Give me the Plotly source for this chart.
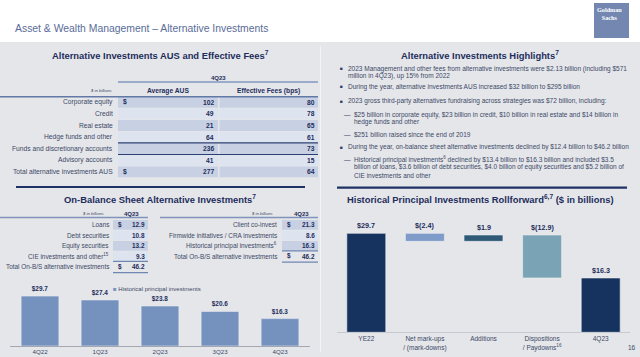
import plotly.graph_objects as go

W, H = 640, 357
FONT = "Liberation Sans, Arial, sans-serif"
NAVY = "#1d2d5c"
TXT = "#3b4868"
DARK_CELL = "#c7d1e3"
LIGHT_CELL = "#dde4ef"
BG = "#e5e6e9"

# ---------------- data ----------------
aus_categories = ["Corporate equity", "Credit", "Real estate", "Hedge funds and other",
                  "Funds and discretionary accounts", "Advisory accounts",
                  "Total alternative investments AUS"]
aus_average = [102, 49, 21, 64, 236, 41, 277]
aus_fees_bps = [80, 78, 65, 61, 73, 15, 64]

bs_asset_labels = ["Loans", "Debt securities", "Equity securities",
                   "CIE investments and other<sup>15</sup>",
                   "Total On-B/S alternative investments"]
bs_asset_values = [12.9, 10.8, 13.2, 9.3, 46.2]

bs_type_labels = ["Client co-invest", "Firmwide initiatives / CRA investments",
                  "Historical principal investments<sup>6</sup>",
                  "Total On-B/S alternative investments"]
bs_type_values = [21.3, 8.6, 16.3, 46.2]

hpi_quarters = ["4Q22", "1Q23", "2Q23", "3Q23", "4Q23"]
hpi_values = [29.7, 27.4, 23.8, 20.6, 16.3]

roll_categories = ["YE22", "Net mark-ups", "Additions", "Dispositions", "4Q23"]
roll_ticktext = ["YE22", "Net mark-ups<br>/ (mark-downs)", "Additions",
                 "Dispositions<br>/ Paydowns<sup>16</sup>", "4Q23"]
roll_values = [29.7, -2.4, 1.9, -12.9, 16.3]
roll_is_total = [True, False, False, False, True]
roll_labels = ["$29.7", "$(2.4)", "$1.9", "$(12.9)", "$16.3"]
roll_colors = ["#15335e", "#7f9bc9", "#2e5a78", "#7aa4b6", "#15335e"]

highlights = [
    ("b", "2023 Management and other fees from alternative investments were $2.13 billion (including $571", 69),
    ("c", "million in 4Q23), up 15% from 2022", 75.8),
    ("b", "During the year, alternative investments AUS increased $32 billion to $295 billion", 86.7),
    ("b", "2023 gross third-party alternatives fundraising across strategies was $72 billion, including:", 101),
    ("d", "$25 billion in corporate equity, $23 billion in credit, $10 billion in real estate and $14 billion in", 115),
    ("dc", "hedge funds and other", 121.8),
    ("d", "$251 billion raised since the end of 2019", 134),
    ("b", "During the year, on-balance sheet alternative investments declined by $12.4 billion to $46.2 billion", 147.3),
    ("d", "Historical principal investments<sup>6</sup> declined by $13.4 billion to $16.3 billion and included $3.5", 159.3),
    ("dc", "billion of loans, $3.6 billion of debt securities, $4.0 billion of equity securities and $5.2 billion of", 167.3),
    ("dc", "CIE investments and other", 175.3),
]

# ---------------- helpers ----------------
ann = []
shapes = []


def X(px):
    return px / W


def Y(py):
    return 1 - py / H


def text(x, y, s, size=6.7, color=TXT, anchor="center", bold=False, italic=False, family=FONT, yanchor="middle"):
    if bold:
        s = "<b>" + s + "</b>"
    if italic:
        s = "<i>" + s + "</i>"
    ann.append(dict(x=X(x), y=Y(y), xref="paper", yref="paper", text=s, showarrow=False,
                    xanchor=anchor, yanchor=yanchor, borderpad=0,
                    font=dict(size=size, color=color, family=family)))


def rect(x0, y0, x1, y1, fill, layer="below"):
    shapes.append(dict(type="rect", xref="paper", yref="paper", x0=X(x0), x1=X(x1), y0=Y(y1), y1=Y(y0),
                       fillcolor=fill, line=dict(width=0), layer=layer))


def hline(x0, x1, y, color, width=1.0):
    shapes.append(dict(type="line", xref="paper", yref="paper", x0=X(x0), x1=X(x1), y0=Y(y), y1=Y(y),
                       line=dict(color=color, width=width), layer="below"))


TITLE = 9.4
BODY = 6.5
TBL = 6.7
BST = 6.4

# ---------------- background / header ----------------
rect(0, 42, W, H, BG)
shapes.append(dict(type="line", xref="paper", yref="paper", x0=X(320.5), x1=X(320.5), y0=Y(352), y1=Y(46),
                   line=dict(color="#f2f3f5", width=1), layer="below"))
text(14, 28.5, "Asset & Wealth Management – Alternative Investments", size=10.4, color="#5a6c98", anchor="left")
rect(594, 3, 629, 38, "#7387b1")
text(596, 5, "<b>Goldman<br>Sachs</b>", size=6.2, color="white", anchor="left",
     family="Liberation Serif, serif", yanchor="top")

# ---------------- AUS table ----------------
text(160, 55, "Alternative Investments AUS and Effective Fees<sup>7</sup>", size=TITLE, color=NAVY, bold=True)
text(218, 77.5, "4Q23", size=6.0, color=NAVY, bold=True)
hline(118, 318, 82, "#8197bf", 1.6)
text(114, 90.5, "$ in billions", size=4.2, color=TXT, anchor="right", italic=True)
text(168, 90.5, "Average AUS", size=TBL, color=NAVY, bold=True)
text(268, 90.5, "Effective Fees (bps)", size=TBL, color=NAVY, bold=True)

top, rh = 96.5, 11.6
for i, (lab, a, f) in enumerate(zip(aus_categories, aus_average, aus_fees_bps)):
    y0 = top + i * rh
    yc = y0 + rh / 2
    fill = DARK_CELL if i % 2 == 0 else LIGHT_CELL
    rect(118, y0 + 0.4, 218, y0 + rh - 0.4, fill)
    rect(219.5, y0 + 0.4, 318, y0 + rh - 0.4, fill)
    text(114, yc, lab, size=TBL, anchor="right")
    if i in (0, len(aus_categories) - 1):
        text(122, yc, "$", size=TBL, color=NAVY, bold=True, anchor="left")
    text(215, yc, str(a), size=TBL, color=NAVY, bold=True, anchor="right")
    text(316, yc, str(f), size=TBL, color=NAVY, bold=True, anchor="right")
hline(0, 318, 96.8, "#6279a6", 1.4)
hline(118, 318, top + 4 * rh, "#2b3f73", 1.4)
hline(118, 318, top + 5 * rh, "#2b3f73", 1.0)

hline(16, 305, 187, "#1f3266", 2.2)
text(160, 198.5, "On-Balance Sheet Alternative Investments<sup>7</sup>", size=TITLE, color=NAVY, bold=True)


# ---------------- On-B/S tables ----------------
def bs_table(labels, values, lab_x, cx0, cx1, hdr_x0, top_y=219.7, row_h=10.5):
    text(lab_x - 16, 213.8, "$ in billions", size=4.2, anchor="center", italic=True)
    text((cx0 + cx1) / 2 + 1, 213.8, "4Q23", size=6.0, color=NAVY, bold=True)
    hline(hdr_x0, cx1, 217.5, "#7f93bb", 1.3)
    n = len(labels)
    for i, (lab, v) in enumerate(zip(labels, values)):
        y0 = top_y + i * row_h
        yc = y0 + row_h / 2
        if i < n - 1:
            fill = DARK_CELL if i % 2 == 0 else LIGHT_CELL
            rect(cx0, y0 + 0.4, cx1, y0 + row_h - 0.4, fill)
        text(lab_x, yc, lab, size=BST, anchor="right")
        if i in (0, n - 1):
            text(cx0 + 4, yc, "$", size=BST, color=NAVY, bold=True, anchor="left")
        text(cx1 - 2, yc, f"{v:.1f}", size=BST, color=NAVY, bold=True, anchor="right")
    yt = top_y + (n - 1) * row_h
    hline(cx0, cx1, yt - 0.3, "#6f86b3", 1.2)
    hline(cx0, cx1, yt + row_h + 0.5, "#6f86b3", 1.2)


bs_table(bs_asset_labels, bs_asset_values, 109.5, 113, 148, 0)
bs_table(bs_type_labels, bs_type_values, 278, 282, 318, 160)

# ---------------- highlights ----------------
text(480, 55, "Alternative Investments Highlights<sup>7</sup>", size=TITLE, color=NAVY, bold=True)
for kind, s, y in highlights:
    if kind == "b":
        text(339, y, "■", size=4.8, color="#2b3d6e", anchor="left")
        text(346.5, y, s, size=BODY, anchor="left")
    elif kind == "c":
        text(346.5, y, s, size=BODY, anchor="left")
    elif kind == "d":
        text(343, y, "—", size=BODY, anchor="left")
        text(353, y, s, size=BODY, anchor="left")
    else:
        text(353, y, s, size=BODY, anchor="left")

hline(337, 627, 187.7, "#1f3266", 2.2)
text(346, 198.5, "Historical Principal Investments Rollforward<sup>6,7</sup> ($ in billions)", size=TITLE,
     color=NAVY, bold=True, anchor="left")
text(632, 347.3, "16", size=6.5, color=TXT)

# legend for left bar chart
text(112, 289, "<span style='color:#7592be'>■</span> Historical principal investments", size=6.0, anchor="left")

# ---------------- figure ----------------
fig = go.Figure()

fig.add_trace(go.Bar(
    x=hpi_quarters, y=hpi_values, width=0.63,
    marker=dict(color="#7592be", line=dict(color="#e9ecf2", width=0.6)),
    text=[f"${v:.1f}" for v in hpi_values], textposition="outside",
    textfont=dict(size=6.4, color=NAVY, family=FONT), texttemplate="<b>%{text}</b>",
    cliponaxis=False, showlegend=False, xaxis="x", yaxis="y", hoverinfo="skip",
))

# waterfall as floating bars
bases = []
running = 0.0
for v, tot in zip(roll_values, roll_is_total):
    if tot:
        bases.append(0.0)
        running = v
    else:
        bases.append(running)
        running = running + v
fig.add_trace(go.Bar(
    x=roll_categories, y=roll_values, base=bases, width=0.665,
    marker=dict(color=roll_colors, line=dict(color="#eef0f4", width=0.6)),
    showlegend=False, xaxis="x2", yaxis="y2", hoverinfo="skip", cliponaxis=False,
))
for c, v, b, lab in zip(roll_categories, roll_values, bases, roll_labels):
    topv = max(b, b + v)
    ann.append(dict(x=c, y=topv, xref="x2", yref="y2", text="<b>" + lab + "</b>", showarrow=False,
                    yanchor="bottom", yshift=1, font=dict(size=7.2, color=NAVY, family=FONT)))

fig.update_layout(
    width=W, height=H, autosize=False,
    margin=dict(l=0, r=0, t=0, b=0),
    paper_bgcolor="white", plot_bgcolor="rgba(0,0,0,0)",
    font=dict(family=FONT, color=TXT),
    showlegend=False,
    xaxis=dict(domain=[X(10), X(310)], type="category", showline=True, linecolor="#a3a8b2",
               linewidth=1, ticks="", showgrid=False, zeroline=False,
               tickfont=dict(size=6.2, color=TXT, family=FONT), fixedrange=True),
    yaxis=dict(domain=[Y(346), Y(286)], range=[0, 35.7], visible=False, fixedrange=True),
    xaxis2=dict(domain=[X(337), X(630)], type="category", showline=True, linecolor="#c6c9d0",
                linewidth=1, ticks="", showgrid=False, zeroline=False,
                tickvals=roll_categories, ticktext=roll_ticktext,
                tickfont=dict(size=6.5, color=TXT, family=FONT), anchor="y2", fixedrange=True),
    yaxis2=dict(domain=[Y(332.3), Y(215)], range=[0, 35.2], visible=False, anchor="x2", fixedrange=True),
    annotations=ann,
    shapes=shapes,
)

fig.write_html(
    "out.html",
    config={"displayModeBar": False},
    post_script="document.body.style.margin='0';document.body.style.padding='0';document.body.style.overflow='hidden';",
)
